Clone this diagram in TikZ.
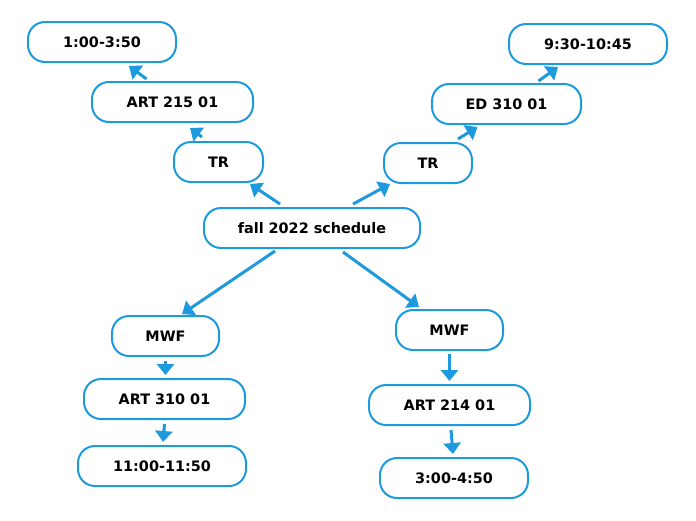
\documentclass[tikz,border=0pt]{standalone}
\usepackage{fontspec}
\setmainfont{DejaVu Sans}
\usetikzlibrary{arrows.meta,calc}
\definecolor{sblue}{RGB}{29,153,222}
\tikzset{
  box/.style={draw=sblue, line width=2pt, rounded corners=17pt, fill=white,
    minimum height=40pt, inner sep=0pt, font=\fontsize{14.4}{17}\selectfont\bfseries, text=black},
  arr/.style={draw=sblue, line width=3pt, -{Triangle[length=11pt,width=17pt]}}
}
\begin{document}
\begin{tikzpicture}[x=1pt,y=-1pt]
\useasboundingbox (0,0) rectangle (696,520);
\node[box, minimum width=148pt] (t1) at (102,42) {1:00-3:50};
\node[box, minimum width=161pt] (a215) at (172.5,102) {ART 215 01};
\node[box, minimum width=89pt] (trl) at (218.5,162) {TR};
\node[box, minimum width=216pt] (fall) at (312,228) {fall 2022 schedule};
\node[box, minimum width=88pt] (trr) at (428,163) {TR};
\node[box, minimum width=149pt] (ed) at (506.5,104) {ED 310 01};
\node[box, minimum width=158pt] (t2) at (588,44) {9:30-10:45};
\node[box, minimum width=107pt] (mwfl) at (165.5,336) {MWF};
\node[box, minimum width=161pt] (a310) at (164.5,399) {ART 310 01};
\node[box, minimum width=168pt] (t3) at (162,466) {11:00-11:50};
\node[box, minimum width=107pt] (mwfr) at (449.5,330) {MWF};
\node[box, minimum width=161pt] (a214) at (449.5,405) {ART 214 01};
\node[box, minimum width=148pt] (t4) at (454,478) {3:00-4:50};

\draw[arr] ($(fall.north)+(-32,-3)$) -- ($(trl.south)+(31.5,1)$);
\draw[arr] ($(fall.north)+(41,-3)$) -- ($(trr.south)+(-38,0)$);
\draw[arr] ($(fall.south)+(-37,2)$) -- ($(mwfl.north)+(16.5,-1)$);
\draw[arr] ($(fall.south)+(31,3)$) -- ($(mwfr.north)+(-30.5,-2)$);
\draw[arr] ($(trl.north)+(-16.5,-4)$) -- ($(a215.south)+(17.5,5)$);
\draw[arr] ($(a215.north)+(-26,-2)$) -- ($(t1.south)+(27,3)$);
\draw[arr] ($(trr.north)+(30,-3)$) -- ($(ed.south)+(-29,2)$);
\draw[arr] ($(ed.north)+(32,-2)$) -- ($(t2.south)+(-30,2)$);
\draw[arr] ($(mwfl.south)+(0,4)$) -- ($(a310.north)+(1,-3)$);
\draw[arr] ($(a310.south)+(0,4)$) -- ($(t3.north)+(1,-3)$);
\draw[arr] ($(mwfr.south)+(0,3)$) -- ($(a214.north)+(0,-3)$);
\draw[arr] ($(a214.south)+(1.5,4)$) -- ($(t4.north)+(-1,-3)$);
\end{tikzpicture}
\end{document}
